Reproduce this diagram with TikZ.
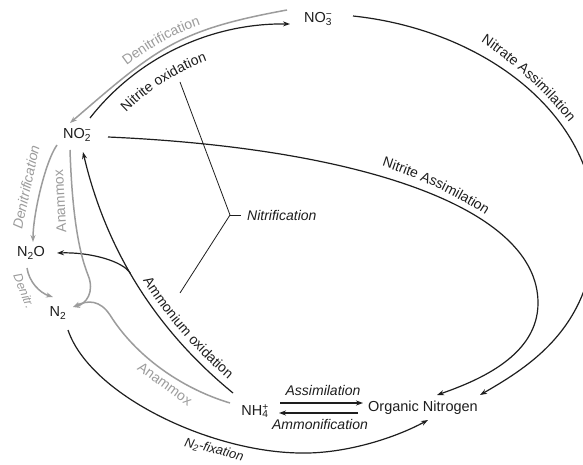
\documentclass[tikz,border=0pt]{standalone}
\usepackage{fontspec}
\setmainfont{Liberation Sans}
\usetikzlibrary{arrows.meta,calc,decorations.text}
\definecolor{lgray}{HTML}{9C9C9C}
\definecolor{dark}{HTML}{1E1E1E}
\newcommand\chemion[2]{\rlap{\textsuperscript{#2}}\textsubscript{#1}}
\newcommand\lblfont{\fontsize{14}{16}\selectfont}
\begin{document}
\begin{tikzpicture}[x=1pt,y=-1pt,
  chem/.style={font=\fontsize{14.5}{16}\selectfont, inner sep=1pt, text=dark},
  lbl/.style={font=\lblfont, inner sep=0pt, text=dark},
  ilbl/.style={lbl, font=\lblfont\itshape},
  glbl/.style={lbl, text=lgray},
  blk/.style={draw=dark, line width=1.2pt},
  gry/.style={draw=lgray, line width=1.5pt},
  tip/.style={-{Stealth[length=7pt,width=5pt]}},
  thick2/.style={draw=dark, line width=1.8pt},
  along/.style 2 args={decorate, decoration={text along path, text align=center, text color=#1, text={|\lblfont|#2}}},
]
\useasboundingbox (0,0) rectangle (583,465);
\fill[white] (0,0) rectangle (583,465);

% species
\node[chem] (no3) at (318,19) {NO\chemion{3}{\textminus}};
\node[chem] (no2) at (77,135) {NO\chemion{2}{\textminus}};
\node[chem] (n2o) at (31,253) {N\textsubscript{2}O};
\node[chem] (n2)  at (58,313) {N\textsubscript{2}};
\node[chem] (nh4) at (255,411) {NH\chemion{4}{+}};
\node[chem] (on)  at (423,408) {Organic Nitrogen};

% nitrite oxidation
\draw[blk,tip] ($(no2)+(13,-17)$) .. controls (137,58) and (210,23) .. ($(no3)+(-28,5)$);
\path[along={dark}{Nitrite oxidation}] (91.5,158) .. controls (127.4,95.8) and (191.3,55.1) .. (262.8,48.8);
% denitrification NO3 -> NO2
\draw[gry,tip] ($(no3)+(-31,-9)$) .. controls (177,30) and (157,48) .. ($(no2)+(-7,-12)$);
\path[along={lgray}{Denitrification}] (62,119) .. controls (150,44) and (172,25) .. (282,5);

% nitrate assimilation
\draw[blk,tip] ($(no3)+(35,-3)$) .. controls (485,30) and (595,115) .. (595,225)
  .. controls (595,325) and (532,365) .. ($(on)+(57,-13)$);
\path[along={dark}{Nitrate Assimilation}] (443,23) .. controls (491,37.5) and (572,112) .. (592,158);

% nitrite assimilation
\draw[blk,tip] ($(no2)+(31,2)$) .. controls (358,148) and (538,207) .. (538,303)
  .. controls (538,355) and (480,380) .. ($(on)+(14,-13)$);
\path[along={dark}{Nitrite Assimilation}] (341,155) .. controls (401,167) and (479,203) .. (519,241);

% ammonium oxidation
\draw[blk,tip] ($(nh4)+(-22,-18)$) .. controls (156,330) and (106,250) .. ($(no2)+(6,17)$) coordinate[pos=0.55] (br);
\path[along={dark}{Ammonium oxidation}] (136,269) .. controls (162,314) and (196,353) .. (238.5,388);
\draw[blk,tip] (br) .. controls (123,261) and (90,252) .. ($(n2o)+(26,0)$);

% denitrification NO2 -> N2O
\draw[gry,tip] ($(no2)+(-20,10)$) .. controls (45,162) and (33,215) .. ($(n2o)+(2,-11)$);
\node[glbl, rotate=78, font=\lblfont\itshape] (ldn2) at (26,187) {Denitrification};
% denitr. N2O -> N2
\draw[gry,tip] ($(n2o)+(-4,15)$) .. controls (29,282) and (40,293) .. ($(n2)+(-5,-16)$);
\node[glbl, rotate=-68, font=\fontsize{12.5}{14}\selectfont\itshape] (ldn3) at (24,291) {Denitr.};

% anammox NO2 -> N2
\draw[gry,tip] ($(no2)+(-7,15)$) .. controls (72,210) and (78,250) .. (88,275)
  .. controls (95,292) and (86,304) .. ($(n2)+(15,-6)$);
\node[glbl, rotate=93] (lan1) at (60,201) {Anammox};
% anammox NH4 -> N2
\draw[gry,tip] ($(nh4)+(-25,-8)$) .. controls (180,388) and (135,355) .. (110,315)
  .. controls (100,300) and (88,300) .. ($(n2)+(15,-6)$);
\node[glbl, rotate=-36] (lan2) at (165,384) {Anammox};

% N2 fixation
\draw[blk,tip] ($(n2)+(10,17)$) .. controls (90,395) and (210,452) .. (300,453)
  .. controls (345,454) and (395,438) .. ($(on)+(5,12)$);
\node[ilbl, rotate=-14, font=\fontsize{13}{15}\selectfont\itshape] (lnf) at (214,450) {N\textsubscript{2}-fixation};

% assimilation / ammonification
\draw[thick2,tip] ($(nh4)+(25,-8)$) -- ($(on)+(-60,-5)$);
\draw[thick2,tip] ($(on)+(-65,5)$) -- ($(nh4)+(24,2)$);
\node[ilbl] (lass) at (323,390) {Assimilation};
\node[ilbl] (lamm) at (320,424) {Ammonification};

% nitrification bracket
\coordinate (nt) at (180,82);
\coordinate (nv) at (230,215);
\coordinate (nb) at (180,293);
\node[ilbl, anchor=west] (nitr) at (247,215) {Nitrification};
\draw[draw=dark, line width=0.8pt] (nt) -- (nv) -- (nb);
\draw[draw=dark, line width=0.8pt] (nv) -- ($(nitr.west)+(-6,0)$);
\end{tikzpicture}
\end{document}
